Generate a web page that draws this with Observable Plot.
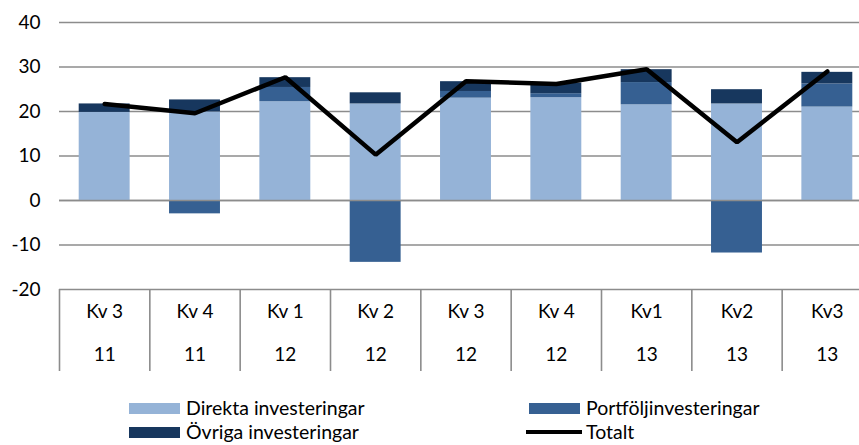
<!DOCTYPE html>
<html>
<head>
<meta charset="utf-8">
<script src="https://cdn.jsdelivr.net/npm/d3@7"></script>
<script src="https://cdn.jsdelivr.net/npm/@observablehq/plot@0.6"></script>
<style>
  html, body { margin: 0; padding: 0; background: #fff; }
  #wrap { position: relative; width: 859px; height: 445px; overflow: hidden; font-family: Lato, "Noto Sans", sans-serif; color: #000; }
  #chart { position: absolute; left: 0; top: 0; width: 872px; }
  #chart svg { max-width: none !important; }
  .leg { position: absolute; display: flex; align-items: center; font-size: 19.5px; line-height: 20px; white-space: nowrap; }
  .sw { width: 51px; height: 11px; margin-right: 6px; }
  .ln { width: 56px; height: 4.5px; background: #000; margin-right: 4px; }
</style>
</head>
<body>
<div id="wrap">
  <div id="chart"></div>
  <div class="leg" style="left:129px; top:398px;"><div class="sw" style="background:#95B3D7"></div>Direkta investeringar</div>
  <div class="leg" style="left:529px; top:398px;"><div class="sw" style="background:#366092"></div>Portföljinvesteringar</div>
  <div class="leg" style="left:129px; top:422px;"><div class="sw" style="background:#17375E"></div>Övriga investeringar</div>
  <div class="leg" style="left:526px; top:422px;"><div class="ln"></div>Totalt</div>
</div>
<script>
// ---- data ----
const quarters = ["Kv 3", "Kv 4", "Kv 1", "Kv 2", "Kv 3", "Kv 4", "Kv1", "Kv2", "Kv3"];
const years = ["11", "11", "12", "12", "12", "12", "13", "13", "13"];
const direkta = [19.8, 19.9, 22.2, 21.7, 23.0, 23.1, 21.5, 21.7, 21.0];
const portfolj = [0.0, -3.0, 3.2, -13.9, 1.5, 0.9, 5.0, -11.8, 5.2];
const ovriga = [1.9, 2.7, 2.2, 2.5, 2.2, 2.4, 2.9, 3.2, 2.6];
const totalt = [21.7, 19.6, 27.7, 10.3, 26.8, 26.2, 29.5, 13.1, 29.0];
const yTicks = [-20, -10, 0, 10, 20, 30, 40];
const seriesNames = ["Direkta investeringar", "Portföljinvesteringar", "Övriga investeringar"];
const seriesColors = ["#95B3D7", "#366092", "#17375E"];

// ---- diverging stack ----
const seriesVals = [direkta, portfolj, ovriga];
const rows = [];
quarters.forEach((q, i) => {
  let pos = 0, neg = 0;
  seriesVals.forEach((vals, s) => {
    const v = vals[i];
    let y1, y2;
    if (v >= 0) { y1 = pos; y2 = pos + v; pos = y2; }
    else { y1 = neg; y2 = neg + v; neg = y2; }
    rows.push({i, series: seriesNames[s], y1, y2});
  });
});
const lineData = totalt.map((v, i) => ({i, v}));
const bounds = d3.range(quarters.length + 1).map(k => k - 0.5);

// ---- layout ----
const W = 872, H = 375, mTop = 22, mBottom = 86, mLeft = 59;
const frameH = H - mTop - mBottom;
const tableH = 82;
const grid = "#8c8c8c";

const chart = Plot.plot({
  width: W, height: H,
  marginLeft: mLeft, marginRight: 0, marginTop: mTop, marginBottom: mBottom,
  style: {fontFamily: "Lato, 'Noto Sans', sans-serif", fontSize: "19px", color: "#000", background: "transparent", overflow: "visible", maxWidth: "none"},
  x: {domain: [-0.5, quarters.length - 0.5], axis: null},
  y: {domain: [-20, 40], ticks: yTicks, tickSize: 0, tickPadding: 19, label: null, tickFormat: d => String(d)},
  color: {domain: seriesNames, range: seriesColors},
  marks: [
    Plot.ruleY(yTicks, {stroke: grid, strokeWidth: 1.6}),
    Plot.rect(rows, {x1: d => d.i - 0.5, x2: d => d.i + 0.5, y1: "y1", y2: "y2", fill: "series", insetLeft: 19.7, insetRight: 19.7}),
    Plot.ruleY([0], {stroke: grid, strokeWidth: 1.6}),
    Plot.line(lineData, {x: "i", y: "v", stroke: "#000", strokeWidth: 4.5, strokeLinejoin: "miter"}),
    Plot.ruleX(bounds, {x: d => d, stroke: grid, strokeWidth: 1.6, insetTop: frameH, insetBottom: -tableH}),
    Plot.text(quarters, {x: (d, i) => i, text: d => d, frameAnchor: "bottom", dy: 28, fontSize: 19, fill: "#000"}),
    Plot.text(years, {x: (d, i) => i, text: d => d, frameAnchor: "bottom", dy: 71, fontSize: 19, fill: "#000"})
  ]
});
document.getElementById("chart").appendChild(chart);
</script>
</body>
</html>
